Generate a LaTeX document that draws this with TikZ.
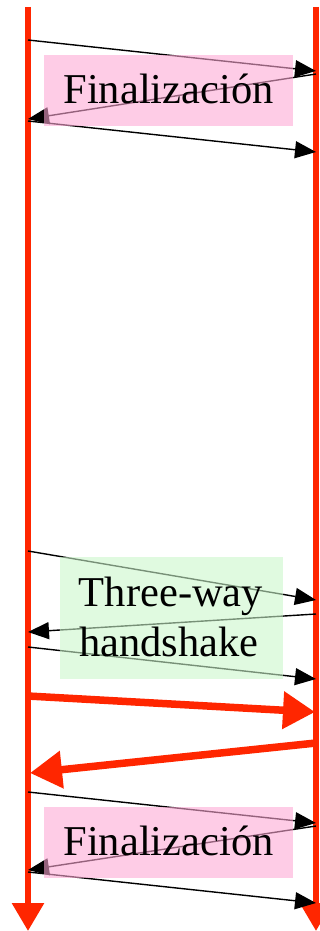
\documentclass[tikz,border=0pt]{standalone}
\usepackage{fontspec}
\setmainfont{Liberation Serif}
\usetikzlibrary{arrows.meta}
\definecolor{lifered}{RGB}{255,38,0}
\definecolor{finpink}{RGB}{254,168,212}
\definecolor{hsgreen}{RGB}{203,246,203}
\tikzset{
  lifeline/.style={draw=lifered, line width=6pt, -{Triangle[length=28pt,width=31pt]}},
  msg/.style={draw=black, line width=1.4pt, -{Triangle[length=21pt,width=17pt]}},
  datamsg/.style={draw=lifered, line width=7.5pt, -{Triangle[length=32pt,width=36pt]}},
  phasebox/.style={draw=none, fill opacity=0.59, inner sep=0pt},
  phasetext/.style={font=\fontsize{42.5}{50}\selectfont, inner sep=0pt, anchor=base, text=black}
}
\begin{document}
\begin{tikzpicture}[x=1pt,y=-1pt]
\useasboundingbox (0,0) rectangle (320,931);
% lifelines
\coordinate (Ltop) at (28,7);
\coordinate (Lbot) at (28,931);
\coordinate (Rtop) at (316,7);
\coordinate (Rbot) at (316,931);
\draw[lifeline] (Ltop) -- (Lbot);
\draw[lifeline] (Rtop) -- (Rbot);
% message endpoints
\coordinate (a1s) at (28,40);  \coordinate (a1e) at (316,71);
\coordinate (a2s) at (316,74); \coordinate (a2e) at (28,119);
\coordinate (a3s) at (28,121); \coordinate (a3e) at (316,152);
\coordinate (b1s) at (28,551); \coordinate (b1e) at (316,600);
\coordinate (b2s) at (316,614); \coordinate (b2e) at (28,632);
\coordinate (b3s) at (28,647); \coordinate (b3e) at (316,679);
\coordinate (t1s) at (28,696); \coordinate (t1e) at (315,712);
\coordinate (t2s) at (316,743); \coordinate (t2e) at (30,773);
\coordinate (c1s) at (28,792); \coordinate (c1e) at (316,823);
\coordinate (c2s) at (316,826); \coordinate (c2e) at (28,870);
\coordinate (c3s) at (28,872); \coordinate (c3e) at (316,903);
% messages
\draw[msg] (a1s) -- (a1e);
\draw[msg] (a2s) -- (a2e);
\draw[msg] (a3s) -- (a3e);
\draw[msg] (b1s) -- (b1e);
\draw[msg] (b2s) -- (b2e);
\draw[msg] (b3s) -- (b3e);
\draw[msg] (c1s) -- (c1e);
\draw[msg] (c2s) -- (c2e);
\draw[msg] (c3s) -- (c3e);
% data transfer
\draw[datamsg] (t1s) -- (t1e);
\draw[datamsg] (t2s) -- (t2e);
% phase boxes
\node[phasebox, fill=finpink, minimum width=249pt, minimum height=71pt] (fin1) at (168.5,90.5) {};
\node[phasebox, fill=hsgreen, minimum width=223pt, minimum height=122pt] (hs) at (171.5,618) {};
\node[phasebox, fill=finpink, minimum width=249pt, minimum height=71pt] (fin2) at (168.5,842.5) {};
% labels
\node[phasetext] (fin1txt) at (168.5,103) {Finalización};
\node[phasetext] (hstxt1) at (171,606) {Three-way};
\node[phasetext] (hstxt2) at (169,656) {handshake};
\node[phasetext] (fin2txt) at (168.5,855) {Finalización};
\end{tikzpicture}
\end{document}
